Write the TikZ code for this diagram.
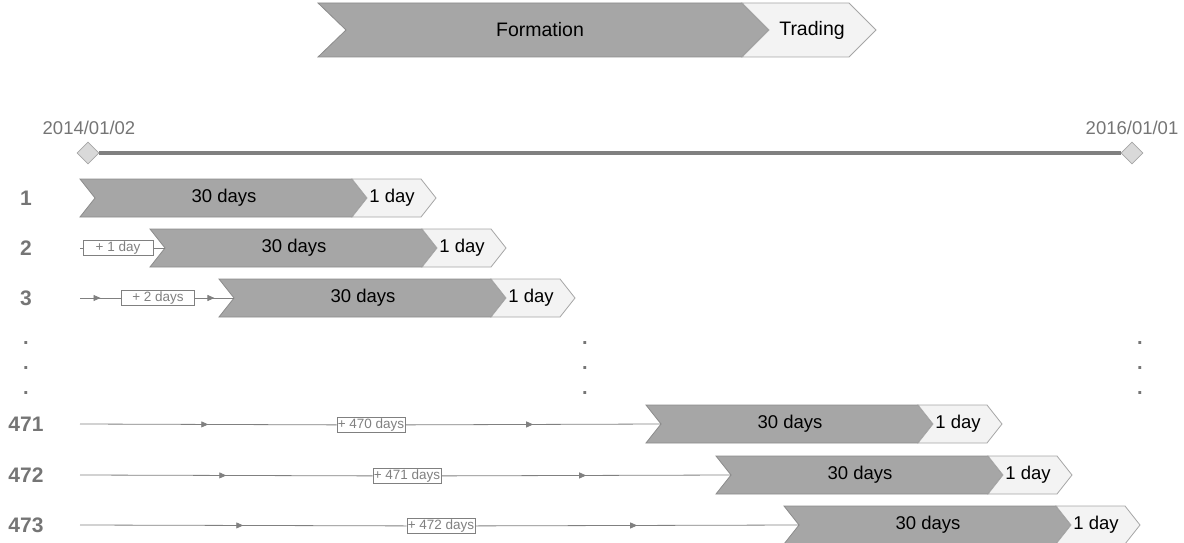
\documentclass[tikz,border=0pt]{standalone}
\usepackage{fontspec}
\setmainfont{Liberation Sans}
\usetikzlibrary{shapes.geometric,arrows.meta,decorations.markings}

\definecolor{formfill}{HTML}{A6A6A6}
\definecolor{formline}{HTML}{8C8C8C}
\definecolor{tradefill}{HTML}{F3F3F3}
\definecolor{tradeline}{HTML}{A6A6A6}
\definecolor{labgray}{HTML}{757575}
\definecolor{axisgray}{HTML}{808080}

\tikzset{
  formation/.style={fill=formfill,draw=formline,line width=0.8},
  trading/.style={fill=tradefill,draw=tradeline,line width=0.8},
  phasetext/.style={inner sep=0pt,font=\fontsize{18.5}{20}\selectfont},
  rowlabel/.style={inner sep=0pt,text=labgray,font=\fontsize{21}{23}\selectfont\bfseries},
  datelabel/.style={inner sep=0pt,text=labgray,font=\fontsize{18.5}{20}\selectfont},
  endpoint/.style={diamond,draw=tradeline,fill=black!15,line width=0.8,
    minimum size=22,inner sep=0pt},
  daybox/.style={draw=axisgray,fill=white,text=axisgray,line width=0.8,
    inner sep=0.8pt,minimum height=15,font=\fontsize{13.5}{14}\selectfont},
  conn/.style={draw=axisgray,line width=0.8},
  midarrow/.style={postaction={decorate},decoration={markings,
    mark=at position 0.5 with {\arrow{Triangle[length=7pt,width=6pt]}}}},
  vdots/.style={inner sep=0pt,text=labgray,font=\fontsize{20}{22}\selectfont\bfseries}
}

\begin{document}
\begin{tikzpicture}[x=1pt,y=-1pt]
\useasboundingbox (0,0) rectangle (1184,543);

% legend on top
\path[formation] (318,3) -- (742,3) -- (769,30) -- (742,57) -- (318,57) -- (346,30) -- cycle;
\path[trading] (742,3) -- (849,3) -- (876,30) -- (849,57) -- (742,57) -- (769,30) -- cycle;
\node[phasetext,font=\fontsize{19.5}{21}\selectfont] (form) at (540,30) {Formation};
\node[phasetext,font=\fontsize{19.5}{21}\selectfont] (trad) at (812,30) {Trading};

% time axis
\node[endpoint] (d1) at (88,153) {};
\node[endpoint] (d2) at (1132,153) {};
\draw[axisgray,line width=4.5] (d1) -- (d2);
\node[datelabel] (t1) at (89,128) {2014/01/02};
\node[datelabel] (t2) at (1132,128) {2016/01/01};

% one row per window
\foreach \r/\y/\xl in {1/198/80,2/248/150,3/298/219,471/424/646,472/475/716,473/525/784}{
  \node[rowlabel] (r\r) at (26,\y) {\r};
  \coordinate (s\r) at (80,\y);
  \coordinate (n\r) at (\xl+15,\y);
  \path[formation] (\xl,\y-19) -- (\xl+272,\y-19) -- (\xl+287,\y) -- (\xl+272,\y+19)
    -- (\xl,\y+19) -- (\xl+15,\y) -- cycle;
  \path[trading] (\xl+272,\y-19) -- (\xl+341,\y-19) -- (\xl+356,\y) -- (\xl+341,\y+19)
    -- (\xl+272,\y+19) -- (\xl+287,\y) -- cycle;
  \node[phasetext] (f\r) at (\xl+144,\y) {30 days};
  \node[phasetext] (g\r) at (\xl+312,\y) {1 day};
}

% offsets
\node[daybox,minimum width=70] (b2) at (118,248) {+ 1 day};
\node[daybox,minimum width=73] (b3) at (158,298) {+ 2 days};
\node[daybox] (b471) at (371,425) {+ 470 days};
\node[daybox] (b472) at (407,476) {+ 471 days};
\node[daybox] (b473) at (441,526) {+ 472 days};

\draw[conn] (s2) -- (b2);
\draw[conn] (b2) -- (n2);
\foreach \r in {3,471,472,473}{
  \draw[conn,midarrow] (s\r) -- (b\r);
  \draw[conn,midarrow] (b\r) -- (n\r);
}

% skipped rows
\foreach \x in {26,585,1140}
  \foreach \y in {343,368,393}
    \node[vdots] (dot-\x-\y) at (\x,\y) {.};
\end{tikzpicture}
\end{document}
